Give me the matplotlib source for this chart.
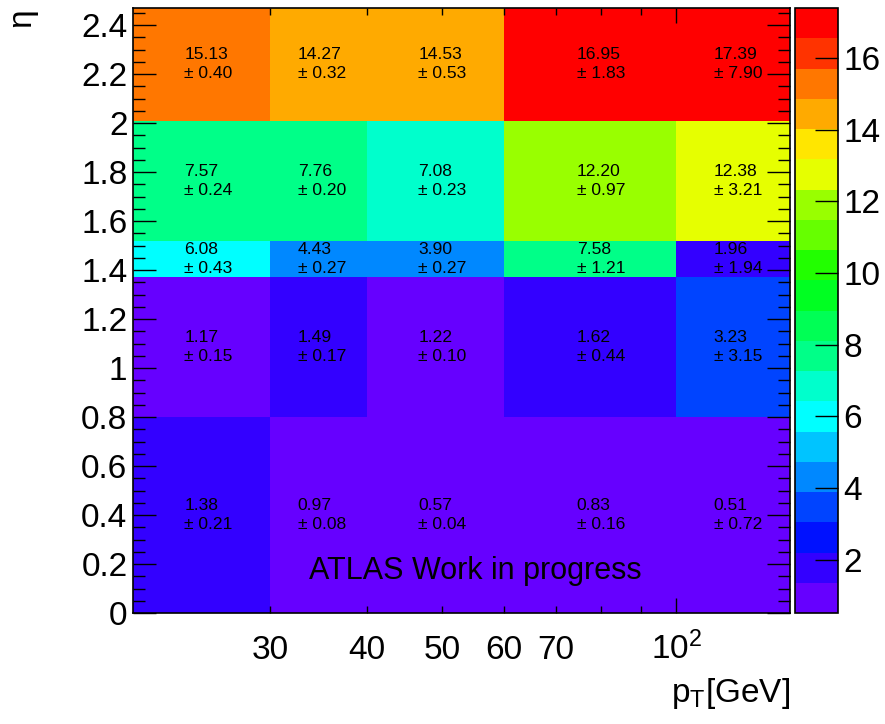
import numpy as np
import matplotlib
matplotlib.use("Agg")
import matplotlib.pyplot as plt
from matplotlib.colors import ListedColormap, BoundaryNorm
from matplotlib.ticker import FixedLocator, FixedFormatter

plt.rcParams['font.family'] = ['Liberation Sans', 'DejaVu Sans']
plt.rcParams['mathtext.fontset'] = 'custom'
plt.rcParams['mathtext.rm'] = 'Liberation Sans'
plt.rcParams['mathtext.it'] = 'Liberation Sans:italic'

# bin edges
pt_edges = [20, 30, 40, 60, 100, 140]
eta_edges = [0, 0.8, 1.37, 1.52, 2.01, 2.47]

# values (rows: eta bins bottom->top, columns: pt bins)
row_0p00_0p80 = [1.38, 0.97, 0.57, 0.83, 0.51]
row_0p80_1p37 = [1.17, 1.49, 1.22, 1.62, 3.23]
row_1p37_1p52 = [6.08, 4.43, 3.90, 7.58, 1.96]
row_1p52_2p01 = [7.57, 7.76, 7.08, 12.20, 12.38]
row_2p01_2p47 = [15.13, 14.27, 14.53, 16.95, 17.39]

err_0p00_0p80 = [0.21, 0.08, 0.04, 0.16, 0.72]
err_0p80_1p37 = [0.15, 0.17, 0.10, 0.44, 3.15]
err_1p37_1p52 = [0.43, 0.27, 0.27, 1.21, 1.94]
err_1p52_2p01 = [0.24, 0.20, 0.23, 0.97, 3.21]
err_2p01_2p47 = [0.40, 0.32, 0.53, 1.83, 7.90]

values = np.array([row_0p00_0p80, row_0p80_1p37, row_1p37_1p52, row_1p52_2p01, row_2p01_2p47])
errors = np.array([err_0p00_0p80, err_0p80_1p37, err_1p37_1p52, err_1p52_2p01, err_2p01_2p47])

x_major = [100]
x_minor = [30, 40, 50, 60, 70, 80, 90]
x_minor_labels = ['30', '40', '50', '60', '70', '', '']
cbar_ticks = [2, 4, 6, 8, 10, 12, 14, 16]

palette = ['#6600ff', '#3300ff', '#0011ff', '#0044ff', '#0088ff', '#00c4ff',
           '#00ffff', '#00ffcc', '#00ff88', '#00ff55', '#00ff22', '#22ff00',
           '#66ff00', '#99ff00', '#e6ff00', '#ffe600', '#ffaa00', '#ff7700',
           '#ff3300', '#ff0000']
cmap = ListedColormap(palette)
vmin, vmax = values.min(), values.max()
levels = np.linspace(vmin, vmax, len(palette) + 1)
norm = BoundaryNorm(levels, cmap.N)

W, H = 885, 724
fig = plt.figure(figsize=(W / 100, H / 100), dpi=100)
ax = fig.add_axes([133 / W, 111 / H, 657 / W, 605 / H])
cax = fig.add_axes([795 / W, 111 / H, 43 / W, 605 / H])

mesh = ax.pcolormesh(pt_edges, eta_edges, values, cmap=cmap, norm=norm)
ax.set_xscale('log')
ax.set_xlim(pt_edges[0], pt_edges[-1])
ax.set_ylim(eta_edges[0], eta_edges[-1])

# cell texts (at linear bin centres, as ROOT does)
for i in range(len(eta_edges) - 1):
    yc = 0.5 * (eta_edges[i] + eta_edges[i + 1])
    for j in range(len(pt_edges) - 1):
        xc = 0.5 * (pt_edges[j] + pt_edges[j + 1])
        ax.text(xc, yc, f"{values[i, j]:.2f}\n\u00b1 {errors[i, j]:.2f}",
                ha='center', va='center', multialignment='left',
                fontsize=12.6, linespacing=1.32, color='black')

ax.text(0.268, 0.056, 'ATLAS Work in progress', transform=ax.transAxes,
        ha='left', va='baseline', fontsize=22)

# axes ticks
ax.xaxis.set_major_locator(FixedLocator(x_major))
ax.xaxis.set_major_formatter(FixedFormatter([r'$\mathregular{10^{2}}$']))
ax.xaxis.set_minor_locator(FixedLocator(x_minor))
ax.xaxis.set_minor_formatter(FixedFormatter(x_minor_labels))
ax.set_yticks(np.arange(0, 2.41, 0.2))
ax.set_yticklabels(['0', '0.2', '0.4', '0.6', '0.8', '1', '1.2', '1.4', '1.6', '1.8', '2', '2.2', '2.4'])
ax.yaxis.set_minor_locator(FixedLocator(np.arange(0, 2.47, 0.05)))

ax.tick_params(axis='x', which='major', direction='in', length=10.8, width=1,
               top=True, bottom=True, labelsize=24, pad=13.5)
ax.tick_params(axis='x', which='minor', direction='in', length=5.2, width=1,
               top=True, bottom=True, labelsize=24, pad=16)
ax.tick_params(axis='y', which='major', direction='in', length=16.5, width=1,
               left=True, right=True, labelsize=24, pad=4)
ax.tick_params(axis='y', which='minor', direction='in', length=8.5, width=1,
               left=True, right=True)
for s in ax.spines.values():
    s.set_linewidth(1.2)

fig.text(22 / W, 1 - 18 / H, '\u03b7', rotation=90, ha='center', va='center', fontsize=24)
fig.text(790 / W, 1 - 702 / H, r'p$_\mathregular{T}$[GeV]', ha='right', va='baseline', fontsize=24)

cb = fig.colorbar(mesh, cax=cax, ticks=cbar_ticks)
cb.outline.set_linewidth(1.2)
cax.tick_params(direction='in', length=16.5, width=1, labelsize=24, pad=4)
cax.minorticks_off()

fig.savefig('out.png', dpi=100)
